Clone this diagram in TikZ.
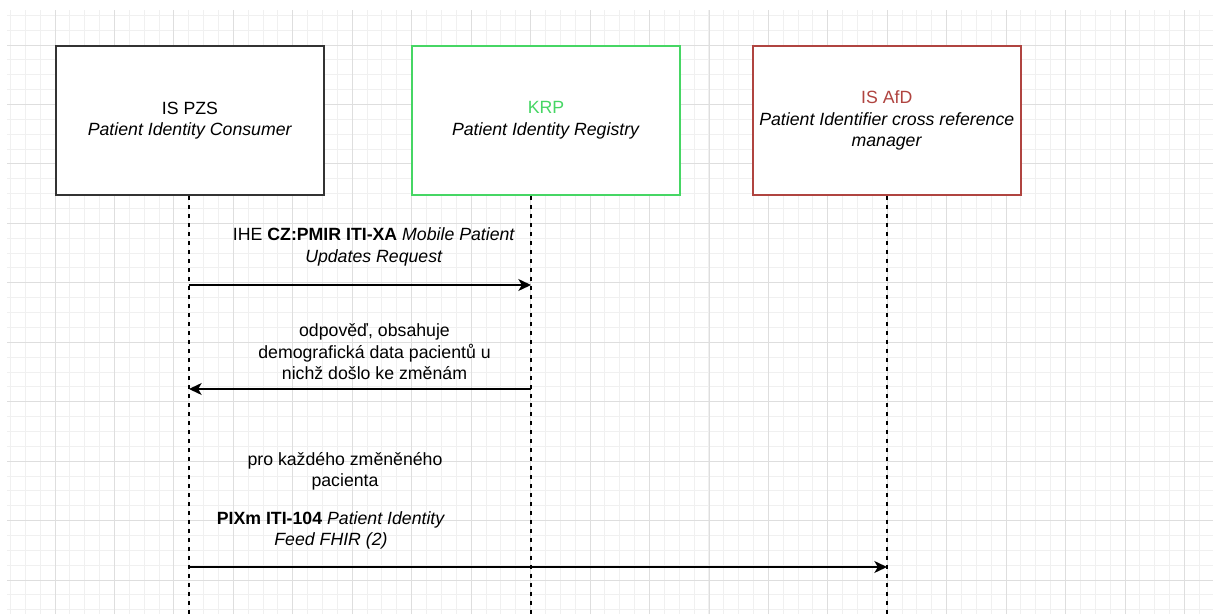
\documentclass[tikz,border=0pt]{standalone}
\usepackage{fontspec}
\setmainfont{Liberation Sans}
\usepackage{xcolor}
\usepackage{tikz}
\usetikzlibrary{arrows.meta}

\definecolor{gridlight}{RGB}{240,240,240}
\definecolor{griddark}{RGB}{222,222,222}
\definecolor{krpgreen}{RGB}{70,214,100}
\definecolor{afdred}{RGB}{176,68,64}
\definecolor{boxgray}{RGB}{51,51,51}

\newcommand{\diagfont}{\fontsize{12.6}{15.3}\selectfont}

\tikzset{
    actorbox/.style={draw=boxgray, fill=white, line width=1.2pt,
        minimum width=6.7cm, minimum height=3.725cm, align=center, inner sep=0pt},
    lifeline/.style={line width=1.1pt, dash pattern=on 3.2pt off 3.2pt},
    msg/.style={line width=1.1pt, -{Stealth[length=9pt,width=8.5pt,inset=2.5pt]}},
    msgtext/.style={align=center, inner sep=0pt}
}

\begin{document}
\begin{tikzpicture}[font=\diagfont]
        \useasboundingbox (0,0) rectangle (30.325,15.35);

        % grid behind everything
        \begin{scope}
            \clip (0.175,0) rectangle (30.325,15.075);
            \foreach \i in {0,...,81}
                \draw[gridlight, line width=0.6pt] ({0.26+0.3715*\i},0) -- ++(0,15.1);
            \foreach \j in {0,...,41}
                \draw[gridlight, line width=0.6pt] (0,{14.9675-0.3715*\j}) -- ++(30.4,0);
            \foreach \i in {0,...,19}
                \draw[griddark, line width=0.6pt] ({1.375+1.48625*\i},0) -- ++(0,15.1);
            \foreach \j in {0,...,9}
                \draw[griddark, line width=0.6pt] (0,{14.225-1.48625*\j}) -- ++(30.4,0);
        \end{scope}

        % Systems
        \node[actorbox] (pzs) at (4.75,12.3375)
            {IS PZS\\\textit{Patient Identity Consumer}};
        \node[actorbox, draw=krpgreen] (krp) at (13.65,12.3375)
            {\textcolor{krpgreen}{KRP}\\\textit{Patient Identity Registry}};
        \node[actorbox, draw=afdred] (afd) at (22.17,12.3375)
            {\textcolor{afdred}{IS AfD}\\\textit{Patient Identifier cross reference}\\\textit{manager}};

        % lifelines down to the bottom
        \coordinate (pzsEnd) at (4.725,0);
        \coordinate (krpEnd) at (13.275,0);
        \coordinate (afdEnd) at (22.175,0);
        \draw[lifeline] (pzs.south -| pzsEnd) -- (pzsEnd);
        \draw[lifeline] (krp.south -| krpEnd) -- (krpEnd);
        \draw[lifeline] (afd.south -| afdEnd) -- (afdEnd);

        % messages
        \coordinate (pzsReq) at (4.725,8.225);
        \coordinate (krpReq) at (13.275,8.225);
        \coordinate (pzsResp) at (4.725,5.625);
        \coordinate (krpResp) at (13.275,5.625);
        \coordinate (pzsFeed) at (4.725,1.175);
        \coordinate (afdFeed) at (22.175,1.175);
        \draw[msg] (pzsReq) -- (krpReq);
        \draw[msg] (krpResp) -- (pzsResp);
        \draw[msg] (pzsFeed) -- (afdFeed);

        % message texts
        \node[msgtext] (reqText) at (9.35,9.175)
            {IHE \textbf{CZ:PMIR ITI-XA} \textit{Mobile Patient}\\\textit{Updates Request}};
        \node[msgtext] (respText) at (9.3625,6.55)
            {odpověď, obsahuje\\demografická data pacientů u\\nichž došlo ke změnám};
        \node[msgtext] (loopText) at (8.625,3.5625)
            {pro každého změněného\\pacienta};
        \node[msgtext] (feedText) at (8.275,2.0875)
            {\textbf{PIXm ITI-104} \textit{Patient Identity}\\\textit{Feed FHIR (2)}};
\end{tikzpicture}
\end{document}
